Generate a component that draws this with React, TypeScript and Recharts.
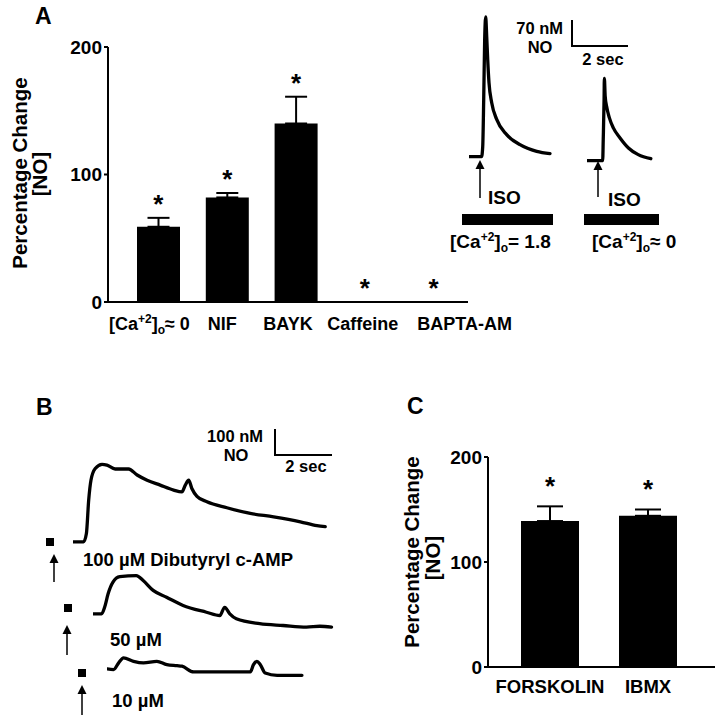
import React from "react";
import { ComposedChart, Bar, ErrorBar, Line, LineChart, XAxis, YAxis } from "recharts";

const FONT = '"Liberation Sans", Arial, Helvetica, sans-serif';

// Panel A bar graph (% change in [NO])
const treatmentsA = ["[Ca+2]o≈ 0", "NIF", "BAYK", "Caffeine", "BAPTA-AM"];
const changeA = [59, 82, 140, 0, 0];
const semA = [7, 3.5, 21, 0, 0];

// Panel C bar graph
const treatmentsC = ["FORSKOLIN", "IBMX"];
const changeC = [139, 144];
const semC = [14, 6];

const percentTicks = [0, 100, 200];

// traces: [time from start of record (s), NO above baseline (nM)]
const isoCa18: [number, number][] = [
  [0, 0], [0.45, 0], [0.49, 27], [0.525, 153], [0.56, 315], [0.596, 376], [0.632, 324],
  [0.668, 261], [0.714, 199], [0.811, 145], [0.989, 100], [1.346, 59], [1.821, 32],
  [2.418, 14], [2.893, 8],
];
const isoCa0: [number, number][] = [
  [0, 0], [0.56, 0], [0.58, 57], [0.61, 164], [0.62, 221], [0.65, 173], [0.7, 146],
  [0.8, 115], [0.94, 88], [1.18, 61], [1.48, 34], [1.83, 16], [2.28, 5],
];
const dbcAMP100: [number, number][] = [
  [0, 0], [0.37, 0], [0.47, 32], [0.55, 160], [0.63, 237], [0.78, 282], [1.02, 298],
  [1.19, 295], [1.48, 280], [1.95, 280], [2.25, 257], [2.6, 237], [3.06, 218], [3.53, 199],
  [3.82, 192], [3.94, 218], [4.06, 237], [4.17, 205], [4.35, 175], [4.7, 154], [5.4, 131],
  [6.22, 109], [7.04, 96], [7.98, 77], [8.56, 62], [8.85, 58],
];
const dbcAMP50: [number, number][] = [
  [0, 0], [0.3, 0], [0.41, 26], [0.53, 77], [0.7, 122], [0.94, 143], [1.52, 147],
  [1.76, 128], [2.11, 90], [2.58, 64], [3.16, 32], [3.98, 6], [4.45, -7], [4.62, 25],
  [4.8, 0], [5.03, -19], [5.85, -38], [6.67, -45], [7.49, -51], [7.96, -48], [8.37, -51],
];
const dbcAMP10: [number, number][] = [
  [0, 3], [0.23, 0], [0.41, 26], [0.58, 45], [0.93, 32], [1.28, 26], [1.75, 32], [2.1, 19],
  [2.46, 15], [2.63, 13], [3.04, -9], [3.86, -9], [5.03, -9], [5.14, 19], [5.26, 32],
  [5.38, 19], [5.55, -13], [5.97, -22], [6.84, -22],
];

// trace scales (px per nM, px per second)
const K_A = 26 / 70;
const SEC_A = 28;
const K_B = 0.26;
const SEC_B = 28.5;

const STAR_GAP_A = 15;
const STAR_GAP_C = 24;

const dataA = treatmentsA.map((name, i) => ({
  name,
  value: changeA[i],
  err: [0, semA[i]],
  star: changeA[i] + semA[i] + STAR_GAP_A,
}));
const dataC = treatmentsC.map((name, i) => ({
  name,
  value: changeC[i],
  err: [0, semC[i]],
  star: changeC[i] + semC[i] + STAR_GAP_C,
}));

const renderStar = (p: any) => {
  if (p.cx == null || p.cy == null) return <g key={p.index} />;
  return (
    <text key={p.index} x={p.cx} y={p.cy + 14} textAnchor="middle" fontSize={26} fontWeight="bold" fontFamily={FONT} fill="#000">
      *
    </text>
  );
};

// labels sit slightly off the bar centres in the original
const labelShiftA: Record<string, number> = { NIF: -5, BAYK: -8, Caffeine: -2, "BAPTA-AM": 31 };

function TickA({ x, y, payload }: any) {
  const v = String(payload.value);
  const common = { y: y + 28, textAnchor: "middle" as const, fontSize: 18, fontWeight: "bold", fontFamily: FONT, fill: "#000" };
  if (v.startsWith("[Ca")) {
    return (
      <text x={x - 9} {...common}>
        [Ca<tspan fontSize={12} dy={-7}>+2</tspan>
        <tspan dy={7}>]</tspan>
        <tspan fontSize={12} dy={4}>o</tspan>
        <tspan dy={-4}>≈ 0</tspan>
      </text>
    );
  }
  return (
    <text x={x + (labelShiftA[v] ?? 0)} {...common}>
      {v}
    </text>
  );
}

function TickC({ x, y, payload }: any) {
  return (
    <text x={x} y={y + 26} textAnchor="middle" fontSize={18.5} fontWeight="bold" fontFamily={FONT} fill="#000">
      {payload.value}
    </text>
  );
}

const yTick = { fill: "#000", fontSize: 19, fontWeight: "bold", fontFamily: FONT };

function Trace({ points, left, baseline, width, lo, hi, k, pxPerSec }: any) {
  const data = points.map(([t, v]: [number, number]) => ({ t, v }));
  return (
    <div style={{ position: "absolute", left, top: baseline - hi * k }}>
      <LineChart width={width} height={(hi - lo) * k} data={data} margin={{ top: 0, right: 0, bottom: 0, left: 0 }}>
        <XAxis type="number" dataKey="t" domain={[0, width / pxPerSec]} hide />
        <YAxis type="number" domain={[lo, hi]} hide />
        <Line type="monotone" dataKey="v" stroke="#000" strokeWidth={3.3} dot={false} strokeLinejoin="round" strokeLinecap="round" isAnimationActive={false} />
      </LineChart>
    </div>
  );
}

function Arrow({ x, tip, tail }: { x: number; tip: number; tail: number }) {
  return (
    <g>
      <line x1={x} y1={tip + 6} x2={x} y2={tail} stroke="#000" strokeWidth={1.5} />
      <polygon points={`${x},${tip} ${x - 4.5},${tip + 9} ${x + 4.5},${tip + 9}`} fill="#000" />
    </g>
  );
}

function CaLabel({ x, y, tail }: { x: number; y: number; tail: string }) {
  return (
    <text x={x} y={y} fontSize={19}>
      [Ca<tspan fontSize={12} dy={-7}>+2</tspan>
      <tspan dy={7}>]</tspan>
      <tspan fontSize={12} dy={4}>o</tspan>
      <tspan dy={-4}>{tail}</tspan>
    </text>
  );
}

export default function App() {
  const txt = { fontFamily: FONT, fontWeight: "bold" as const, fill: "#000" };
  return (
    <div style={{ position: "absolute", left: 0, top: 0, width: 718, height: 720, background: "#fff" }}>
      {/* A: bar graph */}
      <div style={{ position: "absolute", left: 0, top: 0 }}>
        <ComposedChart width={530} height={340} data={dataA} margin={{ top: 47, right: 62, bottom: 8, left: 48 }}>
          <XAxis
            dataKey="name"
            padding={{ left: 16, right: 0 }}
            axisLine={{ stroke: "#000", strokeWidth: 2 }}
            tickLine={false}
            tickSize={0}
            tickMargin={0}
            height={30}
            interval={0}
            tick={<TickA />}
          />
          <YAxis
            domain={[0, 200]}
            ticks={percentTicks}
            width={60}
            axisLine={{ stroke: "#000", strokeWidth: 2 }}
            tickLine={{ stroke: "#000", strokeWidth: 2 }}
            tickSize={4}
            tickMargin={2}
            tick={yTick}
          />
          <Bar dataKey="value" fill="#000" barSize={43} isAnimationActive={false}>
            <ErrorBar dataKey="err" direction="y" width={11} stroke="#000" strokeWidth={2} />
          </Bar>
          <Line dataKey="star" stroke="none" dot={renderStar} activeDot={false} isAnimationActive={false} />
        </ComposedChart>
      </div>

      {/* C: bar graph */}
      <div style={{ position: "absolute", left: 380, top: 360 }}>
        <ComposedChart width={338} height={360} data={dataC} margin={{ top: 97, right: 3, bottom: 23, left: 48 }}>
          <XAxis
            dataKey="name"
            padding={{ left: 13, right: 18 }}
            axisLine={{ stroke: "#000", strokeWidth: 2 }}
            tickLine={false}
            tickSize={0}
            tickMargin={0}
            height={30}
            interval={0}
            tick={<TickC />}
          />
          <YAxis
            domain={[0, 200]}
            ticks={percentTicks}
            width={60}
            axisLine={{ stroke: "#000", strokeWidth: 2 }}
            tickLine={{ stroke: "#000", strokeWidth: 2 }}
            tickSize={4}
            tickMargin={2}
            tick={yTick}
          />
          <Bar dataKey="value" fill="#000" barSize={58} isAnimationActive={false}>
            <ErrorBar dataKey="err" direction="y" width={13} stroke="#000" strokeWidth={2} />
          </Bar>
          <Line dataKey="star" stroke="none" dot={renderStar} activeDot={false} isAnimationActive={false} />
        </ComposedChart>
      </div>

      {/* A: ISO traces */}
      <Trace points={isoCa18} left={469} baseline={157} width={100} lo={-20} hi={400} k={K_A} pxPerSec={SEC_A} />
      <Trace points={isoCa0} left={587} baseline={161} width={80} lo={-20} hi={260} k={K_A} pxPerSec={SEC_A} />

      {/* B: dibutyryl cAMP traces */}
      <Trace points={dbcAMP100} left={72.7} baseline={541.7} width={270} lo={-30} hi={330} k={K_B} pxPerSec={SEC_B} />
      <Trace points={dbcAMP50} left={93.3} baseline={613.3} width={250} lo={-80} hi={180} k={K_B} pxPerSec={SEC_B} />
      <Trace points={dbcAMP10} left={106.7} baseline={670} width={210} lo={-40} hi={60} k={K_B} pxPerSec={SEC_B} />

      <svg width={718} height={720} style={{ position: "absolute", left: 0, top: 0, pointerEvents: "none", overflow: "visible" }}>
        <g {...txt}>
          <text x={35} y={24} fontSize={23}>A</text>
          <text x={36} y={415} fontSize={23}>B</text>
          <text x={407} y={414} fontSize={23}>C</text>

          <text transform="translate(26.5,173) rotate(-90)" textAnchor="middle" fontSize={20.5}>Percentage Change</text>
          <text transform="translate(46.5,174) rotate(-90)" textAnchor="middle" fontSize={20.5}>[NO]</text>
          <text transform="translate(419,552) rotate(-90)" textAnchor="middle" fontSize={20.5}>Percentage Change</text>
          <text transform="translate(440,558) rotate(-90)" textAnchor="middle" fontSize={20.5}>[NO]</text>

          {/* A scale bar labels */}
          <text x={563} y={34} textAnchor="end" fontSize={16.5}>70 nM</text>
          <text x={540} y={53} textAnchor="middle" fontSize={16.5}>NO</text>
          <text x={603} y={65} textAnchor="middle" fontSize={16.5}>2 sec</text>
          <text x={488} y={204} fontSize={19}>ISO</text>
          <text x={608} y={206} fontSize={19}>ISO</text>
          <CaLabel x={450} y={248} tail="= 1.8" />
          <CaLabel x={592} y={248} tail="≈ 0" />

          {/* B labels */}
          <text x={263} y={442} textAnchor="end" fontSize={16.5}>100 nM</text>
          <text x={236} y={461} textAnchor="middle" fontSize={16.5}>NO</text>
          <text x={306} y={472} textAnchor="middle" fontSize={16.5}>2 sec</text>
          <text x={83} y={566} fontSize={18.5}>100 µM Dibutyryl c-AMP</text>
          <text x={110} y={646} fontSize={18.5}>50 µM</text>
          <text x={112} y={707} fontSize={18.5}>10 µM</text>
        </g>

        <g stroke="#000" strokeWidth={2} fill="none">
          <polyline points={`572,${46 - 70 * K_A} 572,46 ${572 + 2 * SEC_A},46`} />
          <polyline points={`275,${455 - 100 * K_B} 275,455 ${275 + 2 * SEC_B},455`} />
        </g>

        <rect x={462} y={214} width={91} height={11} fill="#000" />
        <rect x={584} y={214} width={75} height={11} fill="#000" />
        <Arrow x={480} tip={160} tail={198} />
        <Arrow x={598} tip={161} tail={197} />

        <rect x={46} y={538} width={8} height={8} fill="#000" />
        <rect x={64} y={604} width={8} height={8} fill="#000" />
        <rect x={78} y={669} width={8} height={8} fill="#000" />
        <Arrow x={54} tip={554} tail={582} />
        <Arrow x={67} tip={625} tail={655} />
        <Arrow x={82} tip={685} tail={715} />
      </svg>
    </div>
  );
}
